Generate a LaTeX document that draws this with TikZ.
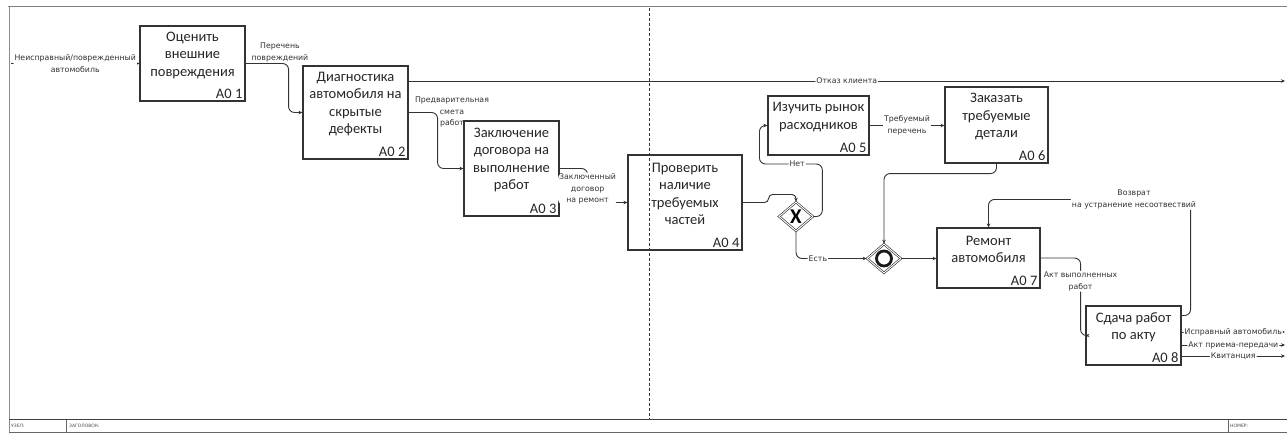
\documentclass[tikz,border=0pt]{standalone}
\usepackage{fontspec}
\setmainfont{Carlito}
\newfontfamily\lblfont{DejaVu Sans}
\usetikzlibrary{positioning,shapes.geometric,arrows.meta,calc}

\begin{document}
\begin{tikzpicture}[x=1pt,y=-1pt,
    proc/.style={draw=black!80, line width=1.1pt, rectangle, inner sep=0pt},
    title/.style={align=center, text=black!85, font=\fontsize{14.5}{17.5}\selectfont},
    num/.style={anchor=south east, inner sep=3pt, text=black!85, font=\fontsize{14.5}{17.5}\selectfont},
    gate/.style={diamond, draw=black!85, line width=0.6pt, double, double distance=1pt,
        minimum width=34pt, minimum height=29pt, inner sep=0pt},
    flow/.style={draw=black!80, line width=0.9pt, rounded corners=6pt,
        -{Stealth[length=4pt,width=3.5pt]}},
    lbl/.style={align=center, fill=white, inner sep=1pt, text=black!80,
        font=\lblfont\fontsize{7.8}{11.5}\selectfont},
    frm/.style={draw=black!50, line width=1.2pt},
    foot/.style={anchor=west, inner sep=1pt, text=black!70, font=\lblfont\fontsize{4.5}{5}\selectfont}]

  \useasboundingbox (0,0) rectangle (1287,434);

  \draw[frm] (8,6.5) -- (1287,6.5);
  \draw[draw=black!45, line width=0.5pt, double=white, double distance=1pt] (8.5,6.5) -- (8.5,433);
  \draw[black!75, line width=0.8pt] (9,419.5) -- (1287,419.5);
  \draw[black!60, line width=0.6pt] (9,432.5) -- (1287,432.5);
  \draw[black!60, line width=0.5pt] (66.5,419.5) -- (66.5,432.5);
  \draw[black!60, line width=0.5pt] (1228,419.5) -- (1228,432.5);
  \node[foot] (uzel) at (10,426) {УЗЕЛ:};
  \node[foot] (zag) at (68,426) {ЗАГОЛОВОК:};
  \node[foot] (nomer) at (1229,426) {НОМЕР:};

  \draw[black!80, line width=0.6pt, dash pattern=on 3pt off 2pt] (649,7.5) -- (649,419);

  \node[proc, minimum width=105pt, minimum height=75pt, label={[num]south east:А0 1}] (a1) at (192.5,63.5) {};
  \node[title] (a1t) at ([yshift=8.5pt]a1.center) {Оценить\\внешние\\повреждения};

  \node[proc, minimum width=105pt, minimum height=93pt, label={[num]south east:А0 2}] (a2) at (355.5,112.5) {};
  \node[title] (a2t) at ([yshift=8.5pt]a2.center) {Диагностика\\автомобиля на\\скрытые\\дефекты};

  \node[proc, minimum width=95pt, minimum height=95pt, label={[num]south east:А0 3}] (a3) at (511.5,168.5) {};
  \node[title] (a3t) at ([yshift=8.5pt]a3.center) {Заключение\\договора на\\выполнение\\работ};

  \node[proc, minimum width=114pt, minimum height=95pt, label={[num]south east:А0 4}] (a4) at (685,202.5) {};
  \node[title] (a4t) at ([yshift=8.5pt]a4.center) {Проверить\\наличие\\требуемых\\частей};

  \node[proc, minimum width=101pt, minimum height=59pt, label={[num]south east:А0 5}] (a5) at (818.5,125.5) {};
  \node[title] (a5t) at ([yshift=8.5pt]a5.center) {Изучить рынок\\расходников};

  \node[proc, minimum width=103pt, minimum height=76pt, label={[num]south east:А0 6}] (a6) at (996.5,125) {};
  \node[title] (a6t) at ([yshift=8.5pt]a6.center) {Заказать\\требуемые\\детали};

  \node[proc, minimum width=103pt, minimum height=60pt, label={[num]south east:А0 7}] (a7) at (988.5,258) {};
  \node[title] (a7t) at ([yshift=8.5pt]a7.center) {Ремонт\\автомобиля};

  \node[proc, minimum width=95pt, minimum height=59pt, label={[num]south east:А0 8}] (a8) at (1133.5,335.5) {};
  \node[title] (a8t) at ([yshift=8.5pt]a8.center) {Сдача работ\\по акту};

  \node[gate, font=\bfseries\fontsize{21}{21}\selectfont] (xg) at (796,216.5) {X};
  \node[gate] (og) at (884,258.5) {};
  \draw[black!90, line width=2.8pt] (og.center) circle[radius=7.5pt];

  \coordinate (in) at (11,63.5);
  \coordinate (rej) at (1285,81);
  \coordinate (out1) at (1285,332);
  \coordinate (out2) at (1285,345);
  \coordinate (out3) at (1285,356);

  \draw[flow] (in) -- (a1.west)
      node[lbl, midway] {Неисправный/поврежденный\\автомобиль};
  \draw[flow] (a1.east) -- ++(43,0)
      node[lbl, above, pos=0.8, fill=none] {Перечень\\повреждений} |- (a2.west);
  \draw[flow] (a2.east) -- ++(29,0) |- (a3.west);
  \node[lbl, fill=none] (lsm) at (452,112) {Предварительная\\смета\\работ};
  \draw[flow] (a2.east |- rej) -- (rej)
      node[lbl, pos=0.5] {Отказ клиента};
  \draw[flow] (a3.east) -- ++(28,0) |- (a4.west)
      node[lbl, pos=0.3] {Заключенный\\договор\\на ремонт};
  \draw[flow, rounded corners=4pt] (a4.east) -- ++(26,0) -- ++(0,-8) -| (xg.north);
  \draw[flow] (xg.east) -- ++(9,0) |- ($(a5.west)+(-8,38.5)$)
      node[lbl, pos=0.7] {Нет} |- (a5.west);
  \draw[flow] (xg.south) |- (og.west)
      node[lbl, pos=0.655] {Есть};
  \draw[flow] (a5.east) -- (a6.west |- a5.east)
      node[lbl, midway] {Требуемый\\перечень};
  \draw[flow] (a6.south) -- ++(0,10) -| (og.north);
  \draw[flow] (og.east) -- (og.east -| a7.west);
  \draw[flow] (a7.east) -- ++(40,0) |- (a8.west)
      node[lbl, pos=0.15] {Акт выполненных\\работ};
  \draw[flow] ($(a8.east)+(0,-20)$) -- ++(9,0) |- ($(a7.north)+(0,-28)$)
      node[lbl, pos=0.64] {Возврат\\на устранение несоотвествий} -- (a7.north);
  \draw[flow] (a8.east |- out1) -- (out1)
      node[lbl, midway] {Исправный автомобиль};
  \draw[flow] (a8.east |- out2) -- (out2)
      node[lbl, pos=0.5] {Акт приема-передачи};
  \draw[flow] (a8.east |- out3) -- (out3)
      node[lbl, pos=0.5] {Квитанция};
\end{tikzpicture}
\end{document}
